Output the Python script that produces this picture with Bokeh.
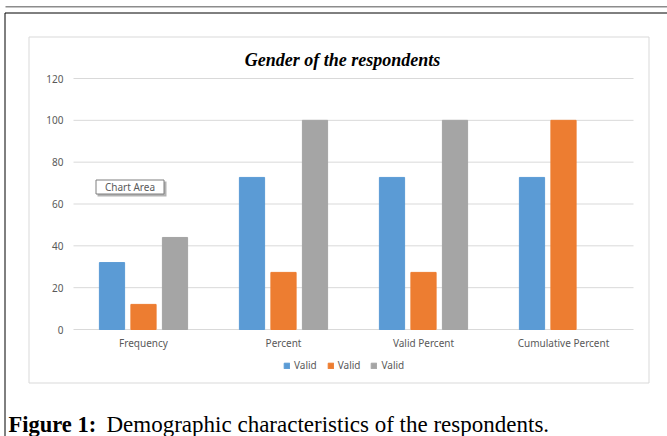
import numpy as np
from bokeh.plotting import figure
from bokeh.models import (Range1d, BoxAnnotation, Label, Legend, LegendItem,
                          ColumnDataSource)
from bokeh.core.properties import value
from bokeh.embed import file_html
from bokeh.resources import INLINE

# ---- data -------------------------------------------------------------
categories = ["Frequency", "Percent", "Valid Percent", "Cumulative Percent"]
valid_a = [32, 72.7, 72.7, 72.7]
valid_b = [12, 27.3, 27.3, 100]
valid_c = [44, 100, 100, float("nan")]
series_labels = ["Valid", "Valid", "Valid"]
y_ticks = [0, 20, 40, 60, 80, 100, 120]
y_tick_labels = ["0", "20", "40", "60", "80", "100", "120"]
title_text = "Gender of the respondents"
caption_bold = "Figure 1:"
caption_rest = "Demographic characteristics of the respondents."
tooltip_text = "Chart Area"

# ---- styling ----------------------------------------------------------
colors = ["#5B9BD5", "#ED7D31", "#A5A5A5"]
AXIS_FONT = "Noto Sans"
SERIF = "Liberation Serif"
TEXT_GRAY = "#595959"

W, H = 667, 436
PL, PR, PT, PB = 73, 633, 78, 329      # plot area edges on the page (pixels)
Y_MAX = 120
n = len(categories)

# value scales stretched over the whole page so the plot area lands at PL..PR, PT..PB
sx = (PR - PL) / n            # pixels per category slot
sy = (PB - PT) / Y_MAX        # pixels per value unit
x_range = Range1d(-PL / sx, n + (W - PR) / sx)
y_range = Range1d(-(H - PB) / sy, Y_MAX + PT / sy)

p = figure(width=W, height=H, x_range=x_range, y_range=y_range,
           x_axis_type=None, y_axis_type=None,
           output_backend="svg", toolbar_location=None, min_border=0)
p.grid.visible = False
p.outline_line_color = None
p.background_fill_color = "white"
p.border_fill_color = "white"

# page-pixel coordinates for everything around the plot area
p.extra_x_ranges = {"px": Range1d(0, W)}
p.extra_y_ranges = {"py": Range1d(H, 0)}
PX = dict(x_range_name="px", y_range_name="py")

centers = np.arange(n) + 0.5

# ---- value axis: gridlines and tick labels ----------------------------
p.segment(x0=0, x1=n, y0=y_ticks, y1=y_ticks, line_color="#d9d9d9", line_width=1)
p.text(x=[PL - 10] * len(y_ticks), y=y_ticks, text=y_tick_labels,
       x_range_name="px", text_align="right", text_baseline="middle",
       text_font=value(AXIS_FONT), text_font_size="10px", text_color=TEXT_GRAY)

# ---- category axis labels ---------------------------------------------
p.text(x=centers, y=[PB + 13] * n, text=categories, y_range_name="py",
       text_align="center", text_baseline="middle",
       text_font=value(AXIS_FONT), text_font_size="10px", text_color=TEXT_GRAY)

# ---- bars -------------------------------------------------------------
offsets = [-0.225, 0.0, 0.225]
renderers = []
for vals, off, color in zip([valid_a, valid_b, valid_c], offsets, colors):
    src = ColumnDataSource(dict(x=centers + off, top=np.array(vals, dtype=float)))
    r = p.vbar(x="x", top="top", bottom=0, width=0.18, source=src,
               fill_color=color, line_color=color)
    renderers.append(r)

items = [LegendItem(label=lab, renderers=[r]) for lab, r in zip(series_labels, renderers)]
legend = Legend(items=items, location=(283, H - 372), orientation="horizontal",
                glyph_width=7, glyph_height=7, label_standoff=4, spacing=10,
                padding=0, margin=0, border_line_alpha=0, background_fill_alpha=0,
                label_text_font=AXIS_FONT, label_text_font_size="10px",
                label_text_color=TEXT_GRAY, label_height=11, label_width=20)
p.add_layout(legend)

# ---- page decorations -------------------------------------------------
def box(left, right, top, bottom, line_color=None, fill_color=None, line_width=1):
    return BoxAnnotation(left=left, right=right, top=top, bottom=bottom,
                         line_color=line_color, line_width=line_width,
                         fill_color=fill_color, fill_alpha=1 if fill_color else 0,
                         line_alpha=1, **PX)

p.add_layout(box(5, 667, 5.5, 7, fill_color="#8c8c8c"))           # rule above the figure
p.add_layout(box(4.5, 668, 12.5, 445, line_color="black"))         # figure frame
p.add_layout(box(28.5, 648.5, 36.5, 382.5, line_color="#d9d9d9"))  # chart area border

# chart-area tooltip with its drop shadow
p.add_layout(box(97, 166, 181, 196, fill_color="#b3b3b3"))
p.add_layout(box(95.5, 163.5, 179.5, 193.5, line_color="#7f7f7f", fill_color="white"))
p.add_layout(Label(x=129.5, y=186.5, text=tooltip_text, text_align="center",
                   text_baseline="middle", text_font=AXIS_FONT,
                   text_font_size="10px", text_color=TEXT_GRAY, **PX))

# chart title
p.add_layout(Label(x=342, y=59, text=title_text, text_align="center",
                   text_baseline="alphabetic", text_font=SERIF,
                   text_font_style="bold italic", text_font_size="18px",
                   text_color="black", **PX))

# figure caption
p.add_layout(Label(x=8, y=424, text=caption_bold, text_align="left",
                   text_baseline="alphabetic", text_font=SERIF,
                   text_font_style="bold", text_font_size="22.5px",
                   text_color="black", **PX))
p.add_layout(Label(x=106, y=424, text=caption_rest, text_align="left",
                   text_baseline="alphabetic", text_font=SERIF,
                   text_font_size="23px", text_color="black", **PX))

open("out.html", "w").write(file_html(p, INLINE))
